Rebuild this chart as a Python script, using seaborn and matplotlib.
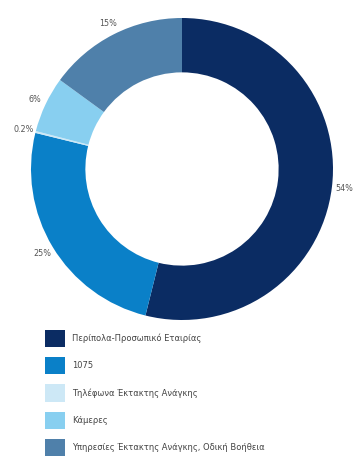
import matplotlib
matplotlib.use("Agg")
import matplotlib.pyplot as plt
from matplotlib.patches import Patch
import seaborn as sns

categories = [
    "Περίπολα-Προσωπικό Εταιρίας",
    "1075",
    "Τηλέφωνα Έκτακτης Ανάγκης",
    "Κάμερες",
    "Υπηρεσίες Έκτακτης Ανάγκης, Οδική Βοήθεια",
]
shares = [54, 25, 0.2, 6, 15]
colors = ["#0b2c63", "#0a80c8", "#cde8f6", "#88cff0", "#4f80aa"]

sns.set_theme(style="white")
plt.rcParams["font.family"] = ["DejaVu Sans"]

W, H = 356, 462
fig = plt.figure(figsize=(W / 100, H / 100), dpi=100)
fig.patch.set_facecolor("white")

# donut axes: centre (182, 169), outer radius 151 px
cx, cy, r = 182, 169, 151
ax = fig.add_axes([(cx - r) / W, 1 - (cy + r) / H, 2 * r / W, 2 * r / H])
ax.set_aspect("equal")

labels = [f"{v:g}%" for v in shares]
wedges, texts = ax.pie(
    shares,
    colors=colors,
    startangle=90,
    counterclock=False,
    labels=labels,
    labeldistance=1.08,
    radius=1.0,
    wedgeprops=dict(width=0.36, linewidth=0),
    textprops=dict(fontsize=5.8, color="#555555"),
)
for t in texts:
    t.set_horizontalalignment("center")
    t.set_verticalalignment("center")
ax.set_xlim(-1, 1)
ax.set_ylim(-1, 1)
ax.axis("off")

handles = [Patch(facecolor=c, edgecolor="none") for c in colors]
fig.legend(
    handles,
    categories,
    loc="upper left",
    bbox_to_anchor=(45 / W, 1 - 330 / H),
    frameon=False,
    fontsize=6,
    handlelength=2.4,
    handleheight=2.8,
    handletextpad=0.8,
    labelspacing=1.2,
    borderpad=0,
    borderaxespad=0,
    labelcolor="#444444",
)

fig.savefig("out.png", dpi=100, facecolor="white")
